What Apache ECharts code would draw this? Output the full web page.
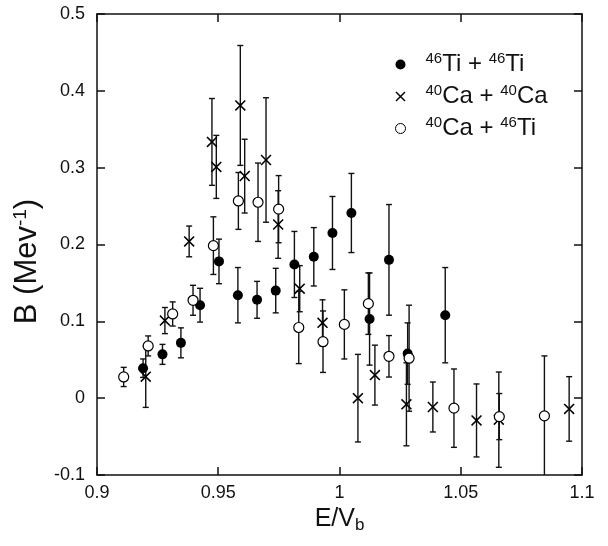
<!DOCTYPE html>
<html>
<head>
<meta charset="utf-8">
<script src="https://cdn.jsdelivr.net/npm/echarts@6/dist/echarts.min.js"></script>
<style>html,body{margin:0;padding:0;background:#fff}#c{width:608px;height:546px}</style>
</head>
<body>
<div id="c"></div>
<script>
// 46Ti + 46Ti (filled circles)
const tiX = [0.919, 0.927, 0.9346, 0.9425, 0.9503, 0.9581, 0.966, 0.9737, 0.9814, 0.9894, 0.9971, 1.0049, 1.0124, 1.0204, 1.0281, 1.0436];
const tiY = [0.039, 0.057, 0.072, 0.121, 0.178, 0.134, 0.128, 0.140, 0.174, 0.184, 0.215, 0.241, 0.103, 0.180, 0.058, 0.108];
const tiErr = [0.012, 0.013, 0.0195, 0.022, 0.029, 0.036, 0.024, 0.029, 0.043, 0.038, 0.0475, 0.0515, 0.06, 0.072, 0.04, 0.062];
// 40Ca + 40Ca (crosses)
const caX = [0.9201, 0.928, 0.938, 0.9474, 0.9492, 0.9591, 0.9609, 0.9697, 0.9747, 0.9836, 0.993, 1.0076, 1.0146, 1.0276, 1.0385, 1.0565, 1.0657, 1.0947];
const caY = [0.028, 0.101, 0.204, 0.3335, 0.301, 0.381, 0.289, 0.310, 0.226, 0.1425, 0.098, 0.000, 0.030, -0.008, -0.0115, -0.029, -0.028, -0.014];
const caErr = [0.040, 0.017, 0.020, 0.0565, 0.041, 0.078, 0.048, 0.081, 0.044, 0.030, 0.030, 0.057, 0.039, 0.054, 0.0325, 0.0475, 0.062, 0.042];
// 40Ca + 46Ti (open circles)
const ctX = [0.911, 0.9211, 0.9312, 0.9396, 0.948, 0.9583, 0.9664, 0.9749, 0.9832, 0.9932, 1.002, 1.0119, 1.0204, 1.0287, 1.0472, 1.0659, 1.0845];
const ctY = [0.0276, 0.068, 0.1096, 0.1274, 0.1985, 0.2567, 0.255, 0.246, 0.092, 0.0735, 0.096, 0.123, 0.0545, 0.052, -0.013, -0.024, -0.023];
const ctErr = [0.0125, 0.013, 0.0157, 0.0195, 0.0375, 0.037, 0.051, 0.0437, 0.047, 0.040, 0.045, 0.04, 0.027, 0.069, 0.051, 0.030, 0.078];

const seriesNames = ['Ti46', 'Ca40', 'CaTi'];
const legendLabels = {
  Ti46: '{s|46}Ti + {s|46}Ti',
  Ca40: '{s|40}Ca + {s|40}Ca',
  CaTi: '{s|40}Ca + {s|46}Ti'
};
const xTicks = {min: 0.9, max: 1.1, interval: 0.05};
const yTicks = {min: -0.1, max: 0.5, interval: 0.1};

const crossPath = 'path://M0,1L1,0L5,4L9,0L10,1L6,5L10,9L9,10L5,6L1,10L0,9L4,5Z';
const FONT = '"Liberation Sans", Arial, Helvetica, sans-serif';

function pts(xs, ys) { return xs.map((x, i) => [x, ys[i]]); }
function errs(xs, ys, es) { return xs.map((x, i) => [x, ys[i] - es[i], ys[i] + es[i]]); }

function errRender(params, api) {
  const x = api.value(0);
  const lo = api.coord([x, api.value(1)]);
  const hi = api.coord([x, api.value(2)]);
  const cw = 3;
  const st = {stroke: '#111', lineWidth: 1.4};
  return {
    type: 'group',
    children: [
      {type: 'line', shape: {x1: lo[0], y1: lo[1], x2: hi[0], y2: hi[1]}, style: st},
      {type: 'line', shape: {x1: lo[0] - cw, y1: lo[1], x2: lo[0] + cw, y2: lo[1]}, style: st},
      {type: 'line', shape: {x1: hi[0] - cw, y1: hi[1], x2: hi[0] + cw, y2: hi[1]}, style: st}
    ]
  };
}

const chart = echarts.init(document.getElementById('c'), null, {renderer: 'canvas'});
const axisLine = {show: true, onZero: false, lineStyle: {color: '#111', width: 1.5}};
const axisTick = {show: true, inside: true, length: 8, lineStyle: {color: '#111', width: 1.5}};

chart.setOption({
  animation: false,
  backgroundColor: '#fff',
  grid: {left: 97, right: 26, top: 14, bottom: 71},
  legend: {
    orient: 'vertical',
    left: 390, top: 46,
    itemWidth: 10, itemHeight: 10, itemGap: 5,
    formatter: n => legendLabels[n],
    textStyle: {
      fontFamily: FONT, fontSize: 24, color: '#111', lineHeight: 27, padding: [0, 0, 0, 15],
      rich: {s: {fontFamily: FONT, fontSize: 15, color: '#111', verticalAlign: 'top', lineHeight: 15, padding: [0, 0, 8, 0]}}
    },
    data: [
      {name: 'Ti46', icon: 'circle', itemStyle: {color: '#000', borderWidth: 0}},
      {name: 'Ca40', icon: crossPath, itemStyle: {color: '#000', borderWidth: 0}},
      {name: 'CaTi', icon: 'circle', itemStyle: {color: '#fff', borderColor: '#000', borderWidth: 1}}
    ]
  },
  xAxis: [{
    type: 'value', min: xTicks.min, max: xTicks.max, interval: xTicks.interval,
    position: 'bottom',
    axisLine, axisTick, splitLine: {show: false},
    axisLabel: {fontFamily: FONT, fontSize: 18, color: '#111', margin: 9},
    name: 'E/V{b|b}', nameLocation: 'middle', nameGap: 28,
    nameTextStyle: {fontFamily: FONT, fontSize: 25, color: '#111',
      rich: {b: {fontFamily: FONT, fontSize: 17, color: '#111', padding: [12, 0, 0, 0]}}}
  }, {
    type: 'value', min: xTicks.min, max: xTicks.max, interval: xTicks.interval,
    position: 'top',
    axisLine, axisTick, splitLine: {show: false}, axisLabel: {show: false}
  }],
  yAxis: [{
    type: 'value', min: yTicks.min, max: yTicks.max, interval: yTicks.interval,
    position: 'left',
    axisLine, axisTick, splitLine: {show: false},
    axisLabel: {fontFamily: FONT, fontSize: 18, color: '#111', margin: 12},
    name: 'B (Mev{s|-1})', nameLocation: 'middle', nameGap: 47, nameRotate: 90,
    nameTextStyle: {fontFamily: FONT, fontSize: 31, color: '#111', padding: [0, 34, 0, 0],
      rich: {s: {fontFamily: FONT, fontSize: 19, color: '#111', padding: [0, 0, 14, 0]}}}
  }, {
    type: 'value', min: yTicks.min, max: yTicks.max, interval: yTicks.interval,
    position: 'right',
    axisLine, axisTick, splitLine: {show: false}, axisLabel: {show: false}
  }],
  series: [
    {type: 'custom', name: 'errTi', renderItem: errRender, data: errs(tiX, tiY, tiErr), clip: true, z: 1, silent: true},
    {type: 'custom', name: 'errCa', renderItem: errRender, data: errs(caX, caY, caErr), clip: true, z: 1, silent: true},
    {type: 'custom', name: 'errCt', renderItem: errRender, data: errs(ctX, ctY, ctErr), clip: true, z: 1, silent: true},
    {type: 'scatter', name: 'Ti46', data: pts(tiX, tiY), symbol: 'circle', symbolSize: 10,
      itemStyle: {color: '#000', opacity: 1}, z: 3},
    {type: 'scatter', name: 'Ca40', data: pts(caX, caY), symbol: crossPath, symbolSize: 11,
      itemStyle: {color: '#000', opacity: 1}, z: 3},
    {type: 'scatter', name: 'CaTi', data: pts(ctX, ctY), symbol: 'circle', symbolSize: 10,
      itemStyle: {color: '#fff', borderColor: '#000', borderWidth: 1.2, opacity: 1}, z: 4}
  ]
});
</script>
</body>
</html>
